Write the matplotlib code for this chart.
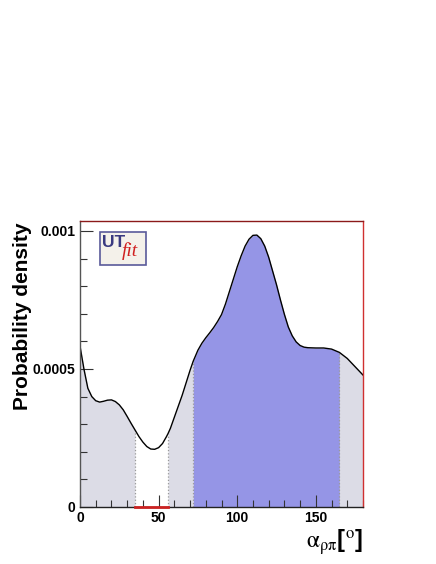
import numpy as np
import matplotlib
matplotlib.use("Agg")
import matplotlib.pyplot as plt
from matplotlib.patches import FancyBboxPatch

# alpha (deg) vs probability density (x 1e-4)
alpha = [0, 2.5, 5, 7.5, 10, 12.5, 15, 17.5, 20, 22.5, 25, 27.5, 30, 32.5, 35,
         37.5, 40, 42.5, 45, 47.5, 50, 52.5, 55, 56, 57.5, 60, 62.5, 65, 67.5,
         70, 72, 75, 77.5, 80, 82.5, 85, 87.5, 90, 92.5, 95, 97.5, 100, 102.5,
         105, 107.5, 110, 112.5, 115, 117.5, 120, 122.5, 125, 127.5, 130, 132.5,
         135, 137.5, 140, 142.5, 145, 150, 155, 160, 165, 170, 175, 180]
dens = [5.83, 5.0, 4.3, 4.0, 3.85, 3.80, 3.83, 3.87, 3.88, 3.82, 3.70, 3.52,
        3.28, 3.03, 2.79, 2.55, 2.35, 2.19, 2.10, 2.09, 2.15, 2.30, 2.55, 2.66,
        2.85, 3.25, 3.65, 4.05, 4.50, 4.95, 5.28, 5.68, 5.93, 6.13, 6.31, 6.50,
        6.72, 6.97, 7.35, 7.80, 8.25, 8.70, 9.10, 9.45, 9.70, 9.84, 9.85, 9.72,
        9.45, 9.05, 8.55, 8.05, 7.50, 6.98, 6.52, 6.20, 5.98, 5.85, 5.79, 5.77,
        5.76, 5.76, 5.72, 5.60, 5.38, 5.08, 4.78]
excl = (35, 56)        # white gap
blue_rng = (72, 165)   # 68% region

x = np.array(alpha)
y = np.array(dens) * 1e-4

plt.rcParams['font.family'] = ['Liberation Sans', 'DejaVu Sans']
plt.rcParams['mathtext.fontset'] = 'stix'

fig = plt.figure(figsize=(4.36, 5.64), dpi=100)
ax = fig.add_axes([80/436, 57/564, 283/436, 286/564])

gray = '#dcdce6'
blue = '#9595e6'
ax.fill_between(x, 0, y, where=(x <= excl[0]), color=gray, lw=0)
ax.fill_between(x, 0, y, where=(x >= excl[1]) & (x <= blue_rng[0]), color=gray, lw=0)
ax.fill_between(x, 0, y, where=(x >= blue_rng[0]) & (x <= blue_rng[1]), color=blue, lw=0)
ax.fill_between(x, 0, y, where=(x >= blue_rng[1]), color=gray, lw=0)
for b in list(excl) + list(blue_rng):
    ax.vlines(b, 0, np.interp(b, x, y), colors='#999999', linestyles=':', lw=0.9)
ax.plot(x, y, color='black', lw=1.0)
ax.plot(excl, [0, 0], color='#cc2222', lw=2, clip_on=False, zorder=5)

ax.set_xlim(0, 180)
ax.set_ylim(0, 0.001036)
ax.set_xticks([0, 50, 100, 150])
ax.set_xticklabels(['0', '50', '100', '150'])
ax.set_xticks(np.arange(0, 181, 10), minor=True)
ax.set_yticks([0, 0.0005, 0.001])
ax.set_yticklabels(['0', '0.0005', '0.001'])
ax.set_yticks(np.arange(0, 0.00101, 0.0001), minor=True)
ax.tick_params(which='both', direction='in', top=False, right=False,
               labelsize=10, width=0.8, color='#333333')
ax.tick_params(which='major', length=9)
ax.tick_params(which='minor', length=5)
ax.tick_params(axis='x', pad=3)
for lab in ax.get_xticklabels() + ax.get_yticklabels():
    lab.set_fontweight('bold')

ax.spines['left'].set_color('#555555')
ax.spines['bottom'].set_color('#222222')
ax.spines['top'].set_color('#8b1a1a')
ax.spines['right'].set_color('#d03030')
for s in ax.spines.values():
    s.set_linewidth(1.0)

fig.text(22/436, 1 - 316/564, 'Probability density', rotation=90,
         fontsize=15, fontweight='bold', ha='center', va='center')
fig.text(363/436, 1 - 542/564, r'$\mathrm{\alpha_{\rho\pi}}$[$^{\rm o}$]',
         fontsize=17, fontweight='bold', ha='right', va='center')

# UTfit logo
box = FancyBboxPatch((100/436, 1 - 265/564), 46/436, 33/564,
                     boxstyle='square,pad=0', transform=fig.transFigure,
                     facecolor='#f4f1ea', edgecolor='#5a5a9a', lw=1.2)
fig.patches.append(box)
fig.text(102/436, 1 - 247/564, 'UT', fontsize=12.5, fontweight='bold',
         color='#3a3a80', va='baseline', ha='left')
fig.text(122/436, 1 - 256/564, 'fit', fontsize=14, style='italic',
         family='Liberation Serif', color='#d02020', va='baseline', ha='left')

fig.savefig('out.png', dpi=100)
